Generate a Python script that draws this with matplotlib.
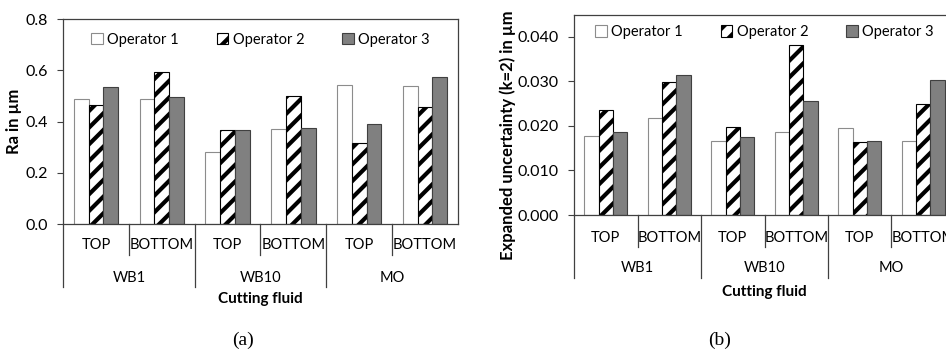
import matplotlib
matplotlib.use("Agg")
import matplotlib.pyplot as plt
import numpy as np

plt.rcParams['font.family'] = ['Lato', 'DejaVu Sans']
plt.rcParams['hatch.linewidth'] = 3.0

fluids = ["WB1", "WB10", "MO"]
positions = ["TOP", "BOTTOM"]
operators = ["Operator 1", "Operator 2", "Operator 3"]

ra_op1 = [0.487, 0.486, 0.281, 0.369, 0.541, 0.537]
ra_op2 = [0.463, 0.595, 0.366, 0.500, 0.318, 0.455]
ra_op3 = [0.533, 0.496, 0.366, 0.374, 0.389, 0.572]

unc_op1 = [0.0178, 0.0217, 0.0167, 0.0187, 0.0195, 0.0167]
unc_op2 = [0.0235, 0.0298, 0.0198, 0.0381, 0.0163, 0.0249]
unc_op3 = [0.0186, 0.0314, 0.0175, 0.0256, 0.0167, 0.0303]

styles = [
    dict(facecolor='white', edgecolor='#8c8c8c', hatch=None),
    dict(facecolor='white', edgecolor='black', hatch='//'),
    dict(facecolor='#808080', edgecolor='#404040', hatch=None),
]


def draw_panel(ax, series, ylim, ticks, fmt, ylabel, lab_y, sep_y, legend_y):
    x = np.arange(len(series[0]))
    w = 0.225
    for k, vals in enumerate(series):
        st = styles[k]
        ax.bar(x + (k - 1) * w, vals, w, facecolor=st['facecolor'],
               edgecolor=st['edgecolor'], hatch=st['hatch'], linewidth=0.8,
               label=operators[k], zorder=2)
    ax.set_xlim(-0.5, len(x) - 0.5)
    ax.set_ylim(*ylim)
    ax.set_yticks(ticks)
    ax.set_yticklabels([fmt.format(t) for t in ticks], fontsize=11.5)
    ax.set_xticks([])
    ax.tick_params(axis='y', direction='out', length=4, width=0.8, color='#404040', pad=7)
    for s in ax.spines.values():
        s.set_color('#404040')
        s.set_linewidth(0.9)
    ax.set_ylabel(ylabel, fontsize=12, fontweight='bold', labelpad=2)

    tr = ax.get_xaxis_transform()
    # inner labels TOP / BOTTOM
    for i in x:
        ax.text(i, lab_y[0], positions[i % 2], transform=tr, ha='center', va='center',
                fontsize=10.5)
    for i in range(1, len(x), 2):
        ax.plot([i - 0.5, i - 0.5], [0, sep_y[0]], transform=tr, color='#404040',
                lw=0.9, clip_on=False)
    for g, name in enumerate(fluids):
        ax.text(2 * g + 0.5, lab_y[1], name, transform=tr, ha='center', va='center',
                fontsize=10.5)
        ax.plot([2 * g - 0.5, 2 * g - 0.5], [0, sep_y[1]], transform=tr, color='#404040',
                lw=0.9, clip_on=False)
    ax.text(2.5, lab_y[2], "Cutting fluid", transform=tr, ha='center', va='center',
            fontsize=11, fontweight='bold')

    ax.legend(loc='center', bbox_to_anchor=(0.5, legend_y), ncol=3, frameon=False,
              fontsize=10.5, handlelength=0.8, handleheight=0.8, handletextpad=0.3,
              columnspacing=2.6, borderaxespad=0)


fig = plt.figure(figsize=(9.46, 3.52), dpi=100)
ax1 = fig.add_axes([0.0666, 0.3636, 0.4175, 0.5824])
ax2 = fig.add_axes([0.6068, 0.3892, 0.4027, 0.568])

draw_panel(ax1, [ra_op1, ra_op2, ra_op3], (0, 0.8), [0.0, 0.2, 0.4, 0.6, 0.8], "{:.1f}",
           "Ra in µm", (-0.102, -0.262, -0.366), (-0.151, -0.307), 0.9)
draw_panel(ax2, [unc_op1, unc_op2, unc_op3], (0, 0.0449), [0.0, 0.01, 0.02, 0.03, 0.04],
           "{:.3f}", "Expanded uncertainty (k=2) in µm", (-0.117, -0.267, -0.383),
           (-0.158, -0.317), 0.915)
# the long label sits lower than the axes centre in the original
ax2.yaxis.set_label_coords(-0.152, 0.4)

fig.text(0.257, 0.034, "(a)", ha='center', va='center', fontsize=14, family='Liberation Serif')
fig.text(0.761, 0.034, "(b)", ha='center', va='center', fontsize=14, family='Liberation Serif')

fig.savefig("out.png", dpi=100)
